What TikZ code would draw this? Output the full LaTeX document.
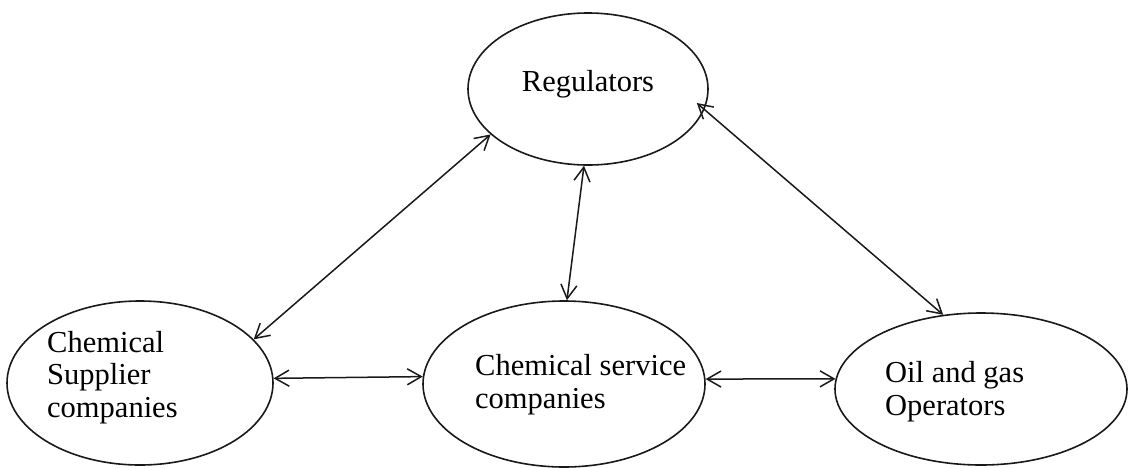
\documentclass[tikz,border=0pt]{standalone}
\usepackage{fontspec}
\setmainfont{Liberation Serif}
\usetikzlibrary{arrows.meta,shapes.geometric}
\begin{document}
\begin{tikzpicture}[x=1pt,y=-1pt,
  party/.style={draw=black!90, line width=1.6pt, ellipse, inner sep=0pt},
  txt/.style={inner sep=0pt, align=left, font=\fontsize{30.5}{32.5}\selectfont},
  link/.style={{Straight Barb[length=14pt,width=16pt]}-{Straight Barb[length=14pt,width=16pt]},
    line width=1.5pt, draw=black!90}]
\useasboundingbox (0,0) rectangle (1128,467);

% the four parties
\node[party, minimum width=240pt, minimum height=152pt] (reg) at (588,89) {};
\node[party, minimum width=266pt, minimum height=164pt] (sup) at (140,383) {};
\node[party, minimum width=282pt, minimum height=166pt] (svc) at (564,384) {};
\node[party, minimum width=292pt, minimum height=152pt] (oil) at (981,389) {};

% their names (base anchor sits on the last line)
\node[txt, anchor=base] (regt) at (588,91) {Regulators};
\node[txt, anchor=base west] (supt) at (47,417) {Chemical\\Supplier\\companies};
\node[txt, anchor=base west] (svct) at (475,408) {Chemical service\\companies};
\node[txt, anchor=base west] (oilt) at (885,415) {Oil and gas\\Operators};

% two-way relations
\draw[link] (sup.21.7) -- (reg.205.1);
\draw[link, shorten <=-10pt] (reg.-10.3) -- (oil.117.8);
\draw[link] (reg.267.7) -- (svc.88.6);
\draw[link] (sup.2.2) -- (svc.177.6);
\draw[link] (svc.2) -- (oil.176);
\end{tikzpicture}
\end{document}
